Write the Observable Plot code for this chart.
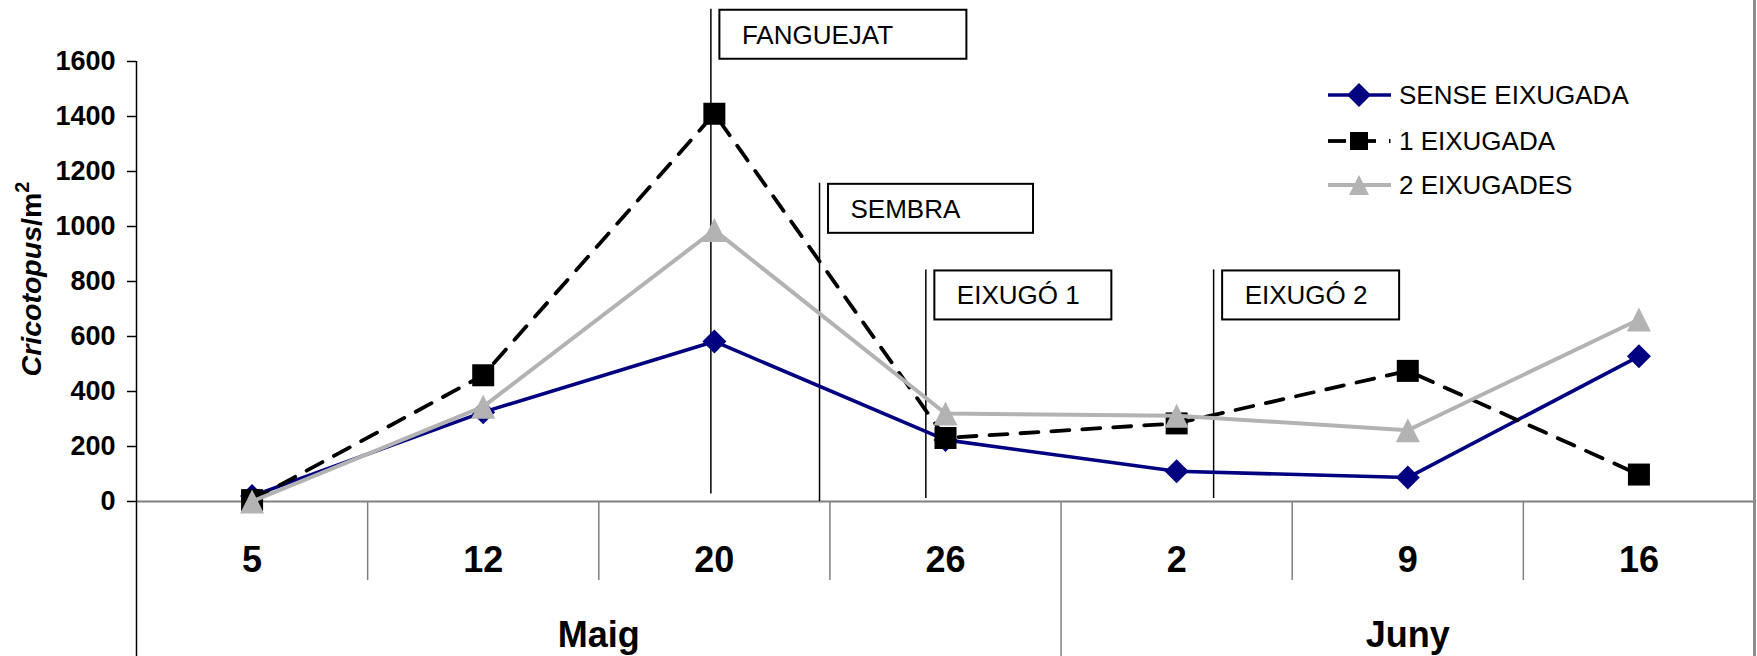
<!DOCTYPE html>
<html><head><meta charset="utf-8">
<script src="https://cdn.jsdelivr.net/npm/d3@7"></script>
<script src="https://cdn.jsdelivr.net/npm/@observablehq/plot@0.6"></script>
<style>
body{margin:0;background:#fff;}
#wrap{position:relative;width:1757px;height:656px;overflow:hidden;font-family:"Liberation Sans",Arial,sans-serif;background:#fff;}
#wrap svg{display:block;}
#edge{position:absolute;left:1753px;top:0;width:3px;height:656px;background:#8c8c8c;}
#legend{position:absolute;left:0;top:0;pointer-events:none;}
</style></head><body><div id="wrap"></div>
<script>
// ---- data ----
const days = ["5","12","20","26","2","9","16"];
const months = ["Maig","Maig","Maig","Maig","Juny","Juny","Juny"];
const seriesNames = ["SENSE EIXUGADA","1 EIXUGADA","2 EIXUGADES"];
const senseEixugada = [20, 325, 582, 224, 110, 87, 528];
const unaEixugada   = [5, 459, 1410, 231, 284, 475, 98];
const dosEixugades  = [0, 345, 987, 320, 312, 259, 662];
const yTicks = [0,200,400,600,800,1000,1200,1400,1600];
const eventLabels = ["FANGUEJAT","SEMBRA","EIXUGÓ 1","EIXUGÓ 2"];
const eventPos    = [1.985, 2.455, 2.915, 4.16];   // position along the date axis (category index)
const eventTop    = [1790, 1157, 842, 842];        // value where the marker line starts
const eventBottom = [27, 0, 11, 11];               // value where the marker line ends

// ---- styles / layout ----
const W = 1757, H = 656;
const mL = 136, mR = 3, mT = 61, mB = 155;
const pxPerX = (W - mL - mR) / days.length;
const pxPerY = (H - mB - mT) / (yTicks[yTicks.length-1] - yTicks[0]);
const boxWidths = [247, 205, 177, 177];
const FONT = "Liberation Sans, Arial, sans-serif";

const diamond = {draw(c, size){const r=Math.sqrt(size/Math.PI);c.moveTo(0,-r);c.lineTo(r,0);c.lineTo(0,r);c.lineTo(-r,0);c.closePath();}};
const square  = {draw(c, size){const r=Math.sqrt(size/Math.PI);c.moveTo(-r,-r);c.lineTo(r,-r);c.lineTo(r,r);c.lineTo(-r,r);c.closePath();}};
const triangle= {draw(c, size){const r=Math.sqrt(size/Math.PI);c.moveTo(0,-r);c.lineTo(r,r);c.lineTo(-r,r);c.closePath();}};

const seriesStyle = [
  {color:"#000080", dash:null,    width:3.6, symbol:diamond,  r:12, legR:12},
  {color:"#000000", dash:"18,13", width:3.8, symbol:square,   r:11, legR:9},
  {color:"#b3b3b3", dash:null,    width:4,   symbol:triangle, r:12, legR:10}
];

// ---- tables built from arrays ----
const seriesValues = [senseEixugada, unaEixugada, dosEixugades];
const rows = seriesValues.map((vals, s) => vals.map((v, i) => ({series: seriesNames[s], i, value: v})));
const events = eventLabels.map((label, k) => ({label, pos: eventPos[k], top: eventTop[k], bottom: eventBottom[k], w: boxWidths[k]}));

const idx = d3.range(days.length);
const innerDividers = [], monthDividers = [];
for (let i = 0; i < days.length - 1; i++) (months[i] === months[i+1] ? innerDividers : monthDividers).push(i + 0.5);
const monthNames = Array.from(new Set(months));
const monthCenters = monthNames.map(m => d3.mean(idx.filter(i => months[i] === m)));
const monthAt = new Map(monthCenters.map((c, k) => [c, monthNames[k]]));

const marks = [
  Plot.ruleY([yTicks[0]], {stroke:"#808080", strokeWidth:2}),
  Plot.axisX({ticks: innerDividers, tickSize: 79, tickFormat: () => "", stroke:"#808080", strokeWidth:1.5}),
  Plot.axisX({ticks: monthDividers, tickSize: 160, tickFormat: () => "", stroke:"#808080", strokeWidth:1.5}),
  Plot.axisX({ticks: [-0.5, days.length - 0.5], tickSize: 160, tickFormat: () => "", stroke:"#000", strokeWidth:1.5}),
  Plot.axisX({ticks: idx, tickSize: 0, tickPadding: 45, tickFormat: i => days[i], fontSize: 36, fontWeight: "bold", fill:"#000"}),
  Plot.axisX({ticks: monthCenters, tickSize: 0, tickPadding: 120, tickFormat: c => monthAt.get(c), fontSize: 36, fontWeight: "bold", fill:"#000"}),
  Plot.axisY({ticks: yTicks, tickSize: 9, tickPadding: 12, tickFormat: d3.format("d"), fontSize: 27, fontWeight: "bold", fill:"#000", stroke:"#000", strokeWidth:1.5}),
  Plot.ruleX([-0.5], {y1: yTicks[0], y2: yTicks[yTicks.length-1], stroke:"#000", strokeWidth:1.5}),
  Plot.ruleX(events, {x:"pos", y1:"bottom", y2:"top", stroke:"#000", strokeWidth:1.5}),
  Plot.rect(events, {
    x1: d => d.pos + 9/pxPerX, x2: d => d.pos + (9 + d.w)/pxPerX,
    y1: d => d.top - 1/pxPerY, y2: d => d.top - 50/pxPerY,
    fill:"#fff", stroke:"#000", strokeWidth:2
  }),
  Plot.text(events, {x:"pos", y:"top", text:"label", dx:31, dy:26, textAnchor:"start", fontSize:26, fill:"#000"})
];
rows.forEach((data, s) => {
  const st = seriesStyle[s];
  marks.push(Plot.line(data, {x:"i", y:"value", stroke: st.color, strokeWidth: st.width, strokeDasharray: st.dash || undefined}));
  marks.push(Plot.dot(data, {x:"i", y:"value", symbol: st.symbol, r: st.r, fill: st.color, stroke:"none"}));
});

const plot = Plot.plot({
  width: W, height: H,
  marginLeft: mL, marginRight: mR, marginTop: mT, marginBottom: mB,
  x: {type:"linear", domain:[-0.5, days.length - 0.5], axis: null},
  y: {type:"linear", domain:[yTicks[0], yTicks[yTicks.length-1]], axis: null},
  style: {fontFamily: FONT, background:"#fff", color:"#000", overflow:"visible"},
  marks
});
const wrap = document.getElementById("wrap");
wrap.appendChild(plot);

// y-axis title with mixed styles
const svg = d3.select(plot);
const yt = svg.append("text")
  .attr("transform", "translate(41,279) rotate(-90)")
  .attr("text-anchor", "middle")
  .attr("font-family", FONT).attr("font-size", 28.5).attr("font-weight", "bold").attr("fill", "#000");
yt.append("tspan").attr("font-style", "italic").text("Cricotopus");
yt.append("tspan").text("/m");
yt.append("tspan").attr("font-size", 20).attr("dy", -12).text("2");

// right edge
const edge = document.createElement("div"); edge.id = "edge"; wrap.appendChild(edge);

// legend
const leg = d3.select(wrap).append("svg").attr("id","legend").attr("width", W).attr("height", H);
const legY = [95, 141, 185];
seriesNames.forEach((name, s) => {
  const st = seriesStyle[s];
  const g = leg.append("g").attr("transform", `translate(1328,${legY[s]})`);
  if (s === 1) {
    g.append("line").attr("x1",0).attr("x2",18).attr("stroke",st.color).attr("stroke-width",st.width);
    g.append("line").attr("x1",38).attr("x2",48).attr("stroke",st.color).attr("stroke-width",st.width);
    g.append("line").attr("x1",61).attr("x2",62.5).attr("stroke",st.color).attr("stroke-width",st.width);
  } else {
    g.append("line").attr("x1",0).attr("x2",63).attr("stroke",st.color).attr("stroke-width",st.width);
  }
  const p = d3.path(); st.symbol.draw(p, Math.PI * st.legR * st.legR);
  g.append("path").attr("transform","translate(31,0)").attr("d", p.toString()).attr("fill", st.color);
  g.append("text").attr("x", 71).attr("y", 0).attr("dy","0.35em").attr("font-family",FONT).attr("font-size",26).attr("fill","#000").text(name);
});
</script></body></html>
